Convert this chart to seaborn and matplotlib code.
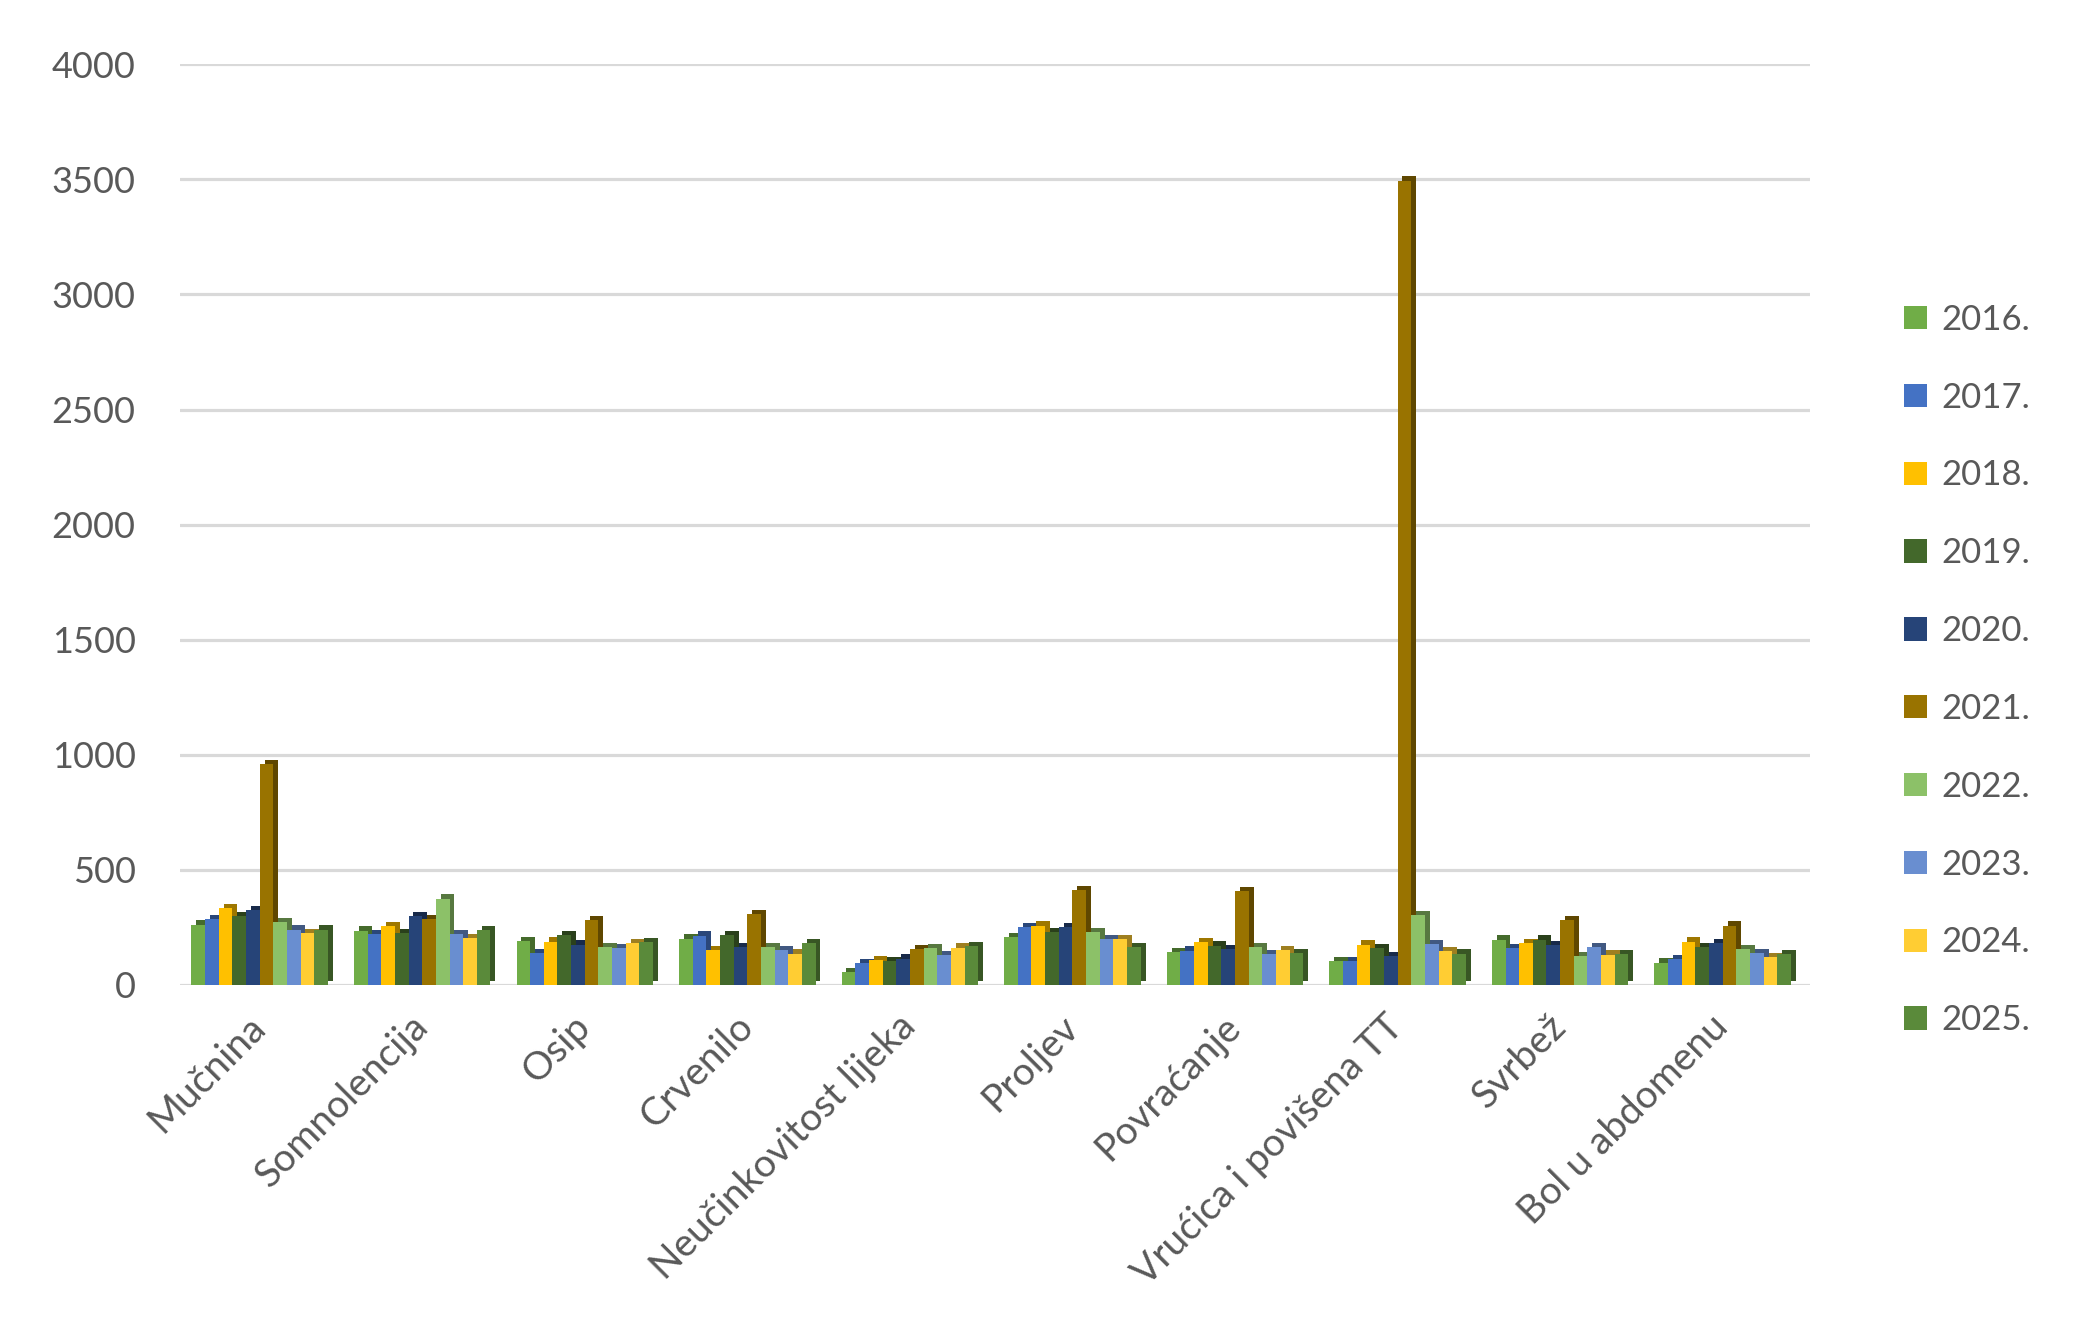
import numpy as np
import pandas as pd
import matplotlib
matplotlib.use("Agg")
import matplotlib.pyplot as plt
import matplotlib.patheffects as pe
import matplotlib.colors as mcolors
import seaborn as sns

categories = ["Mučnina", "Somnolencija", "Osip", "Crvenilo", "Neučinkovitost lijeka",
              "Proljev", "Povraćanje", "Vrućica i povišena TT", "Svrbež", "Bol u abdomenu"]
years = ["2016.", "2017.", "2018.", "2019.", "2020.", "2021.", "2022.", "2023.", "2024.", "2025."]

v2016 = [262, 236, 192, 201, 55, 209, 142, 103, 197, 97]
v2017 = [287, 219, 139, 214, 94, 252, 149, 103, 160, 113]
v2018 = [332, 255, 188, 153, 107, 258, 186, 175, 183, 188]
v2019 = [299, 226, 216, 216, 103, 230, 171, 161, 197, 164]
v2020 = [325, 299, 175, 166, 114, 251, 154, 125, 172, 183]
v2021 = [958, 287, 281, 309, 155, 412, 407, 3495, 280, 258]
v2022 = [273, 375, 164, 166, 160, 229, 165, 303, 127, 157]
v2023 = [240, 219, 161, 151, 129, 200, 135, 178, 165, 139]
v2024 = [226, 204, 183, 136, 162, 199, 151, 146, 132, 120]
v2025 = [240, 238, 186, 180, 170, 165, 140, 136, 135, 135]

colors = ["#70AD47", "#4472C4", "#FFC000", "#43682B", "#264478",
          "#997300", "#8CC168", "#698ED0", "#FFCD33", "#5A8A3A"]

series = [v2016, v2017, v2018, v2019, v2020, v2021, v2022, v2023, v2024, v2025]
rows = []
for y, vals in zip(years, series):
    for c, v in zip(categories, vals):
        rows.append({"cat": c, "year": y, "val": v})
df = pd.DataFrame(rows)

sns.set_theme(style="white")
plt.rcParams["font.family"] = ["Lato", "DejaVu Sans"]

fig = plt.figure(figsize=(20.81, 13.40), dpi=100)
ax = fig.add_axes([0.0865, 0.265, 0.7835, 0.687])

ax.set_axisbelow(True)
ax.yaxis.grid(True, color="#D9D9D9", linewidth=2.3)
ax.xaxis.grid(False)

sns.barplot(data=df, x="cat", y="val", hue="year", palette=colors, width=0.84,
            saturation=1, ax=ax, legend=False, edgecolor="none", linewidth=0)

for p in ax.patches:
    fc = p.get_facecolor()
    dark = tuple(np.array(mcolors.to_rgb(fc)) * 0.62)
    p.set_path_effects([pe.SimplePatchShadow(offset=(3.5, 3), shadow_rgbFace=dark, alpha=1),
                        pe.Normal()])

ax.set_ylim(0, 4000)
ax.set_xlim(-0.49, 9.54)
ax.set_yticks(np.arange(0, 4001, 500))
ax.set_xlabel("")
ax.set_ylabel("")
for s in ax.spines.values():
    s.set_visible(False)
ax.tick_params(axis="y", labelsize=26, labelcolor="#595959", length=0, pad=32)
ax.tick_params(axis="x", labelsize=28, labelcolor="#595959", length=0, pad=26)
plt.setp(ax.get_xticklabels(), rotation=45, ha="right", va="center", rotation_mode="anchor")

handles = [plt.Rectangle((0, 0), 1, 1, facecolor=c, edgecolor="none") for c in colors]
leg = ax.legend(handles, years, loc="center left", bbox_to_anchor=(0.90, 0.50),
                bbox_transform=fig.transFigure,
                frameon=False, fontsize=25, labelcolor="#595959", handlelength=0.66,
                handleheight=0.66, handletextpad=0.4, labelspacing=1.32)

fig.savefig("out.png", dpi=100, facecolor="white")
